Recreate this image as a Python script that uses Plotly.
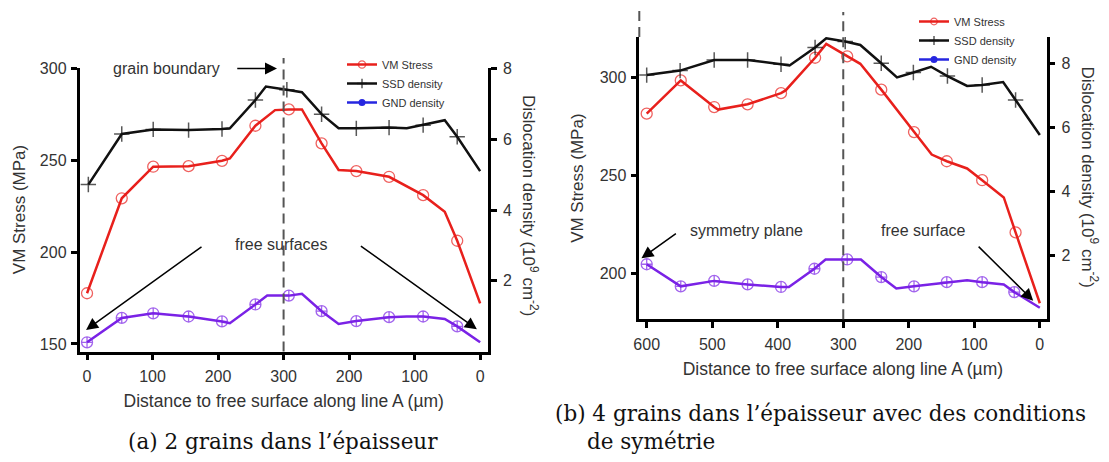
import plotly.graph_objects as go

W, H = 1109, 462

# ---------------- (a) 2 grains dans l'épaisseur ----------------
a_tick_pos = [0, 100, 200, 300, 400, 500, 600]
a_tick_text = ["0", "100", "200", "300", "200", "100", "0"]
a_left_ticks = [150, 200, 250, 300]
a_right_ticks = [2, 4, 6, 8]

a_vm_x = [0, 53, 101, 155, 206, 218, 257, 287, 308, 328, 358, 384, 411, 461, 513, 546, 565, 600]
a_vm_y = [177.6, 229.3, 246.5, 246.8, 249.7, 251.0, 268.8, 277.3, 277.7, 277.7, 259.2, 244.7, 244.1, 241.0, 231.0, 222.0, 206.2, 172.1]
a_vm_m = [1, 1, 1, 1, 1, 0, 1, 0, 1, 0, 1, 0, 1, 1, 1, 0, 1, 0]

a_ssd_x = [2, 53, 101, 155, 206, 218, 257, 273, 305, 328, 358, 384, 411, 461, 488, 513, 546, 565, 600]
a_ssd_y = [4.72, 6.15, 6.28, 6.26, 6.29, 6.31, 7.11, 7.49, 7.40, 7.33, 6.71, 6.31, 6.31, 6.33, 6.31, 6.40, 6.54, 6.07, 5.10]
a_ssd_m = [1, 1, 1, 1, 1, 0, 1, 0, 1, 0, 1, 0, 1, 1, 0, 1, 0, 1, 0]

a_gnd_x = [0, 53, 101, 155, 206, 218, 257, 275, 308, 328, 358, 384, 411, 461, 488, 513, 546, 565, 600]
a_gnd_y = [0.26, 0.95, 1.08, 0.99, 0.85, 0.80, 1.33, 1.58, 1.58, 1.63, 1.14, 0.78, 0.86, 0.97, 0.99, 0.99, 0.92, 0.71, 0.26]
a_gnd_m = [1, 1, 1, 1, 1, 0, 1, 0, 1, 0, 1, 0, 1, 1, 0, 1, 0, 1, 0]

a_boundary = 300

# ---------------- (b) 4 grains avec symétrie ----------------
b_tick_pos = [600, 500, 400, 300, 200, 100, 0]
b_left_ticks = [200, 250, 300]
b_right_ticks = [2, 4, 6, 8]

b_vm_x = [600, 548, 497, 491, 446, 395, 388, 343, 326, 294, 274, 242, 192, 165, 142, 111, 88, 55, 37, 0]
b_vm_y = [281.6, 298.6, 285.0, 283.7, 286.4, 292.1, 293.5, 310.2, 317.3, 310.9, 307.1, 293.9, 272.2, 260.7, 257.3, 253.6, 247.6, 238.8, 220.9, 184.7]
b_vm_m = [1, 1, 1, 0, 1, 1, 0, 1, 0, 1, 0, 1, 1, 0, 1, 0, 1, 0, 1, 0]

b_ssd_x = [600, 549, 497, 446, 395, 382, 343, 326, 297, 274, 242, 218, 193, 166, 141, 111, 88, 56, 37, 0]
b_ssd_y = [7.63, 7.77, 8.10, 8.10, 7.97, 7.93, 8.49, 8.78, 8.68, 8.57, 8.00, 7.56, 7.71, 7.89, 7.60, 7.29, 7.32, 7.41, 6.85, 5.76]
b_ssd_m = [1, 1, 1, 1, 1, 0, 1, 0, 1, 0, 1, 0, 1, 0, 1, 0, 1, 0, 1, 0]

b_gnd_x = [600, 548, 497, 446, 395, 383, 344, 327, 294, 273, 242, 219, 192, 142, 111, 88, 55, 39, 0]
b_gnd_y = [1.72, 1.03, 1.20, 1.09, 1.01, 1.01, 1.58, 1.87, 1.87, 1.87, 1.32, 0.96, 1.03, 1.16, 1.22, 1.16, 1.09, 0.85, 0.36]
b_gnd_m = [1, 1, 1, 1, 1, 0, 1, 0, 1, 0, 1, 0, 1, 1, 0, 1, 0, 1, 0]

b_boundary = 300

RED = "#e8201c"
BLACK = "#111111"
PURPLE = "#7a22e6"
BLUE = "#2626e0"
TXT = "#333333"
FONT = "Liberation Sans"


def sizes(flags, s):
    return [s if f else 0 for f in flags]


fig = go.Figure()


def add_panel(xa, yl, yr, legend, vm, ssd, gnd):
    fig.add_trace(go.Scatter(
        x=vm[0], y=vm[1], mode="lines+markers", name="VM Stress",
        xaxis=xa, yaxis=yl, legend=legend,
        line=dict(color=RED, width=2.5),
        marker=dict(symbol="circle-open", size=sizes(vm[2], 11), color=RED, line=dict(width=1.3))))
    fig.add_trace(go.Scatter(
        x=ssd[0], y=ssd[1], mode="lines+markers", name="SSD density",
        xaxis=xa, yaxis=yr, legend=legend,
        line=dict(color=BLACK, width=2.5),
        marker=dict(symbol="cross-thin-open", size=sizes(ssd[2], 11), color=BLACK, line=dict(width=1.5, color=BLACK))))
    fig.add_trace(go.Scatter(
        x=gnd[0], y=gnd[1], mode="lines+markers", name="GND density",
        xaxis=xa, yaxis=yr, legend=legend, showlegend=False,
        line=dict(color=PURPLE, width=2.5),
        marker=dict(symbol="circle-cross-open", size=sizes(gnd[2], 11), color=PURPLE, line=dict(width=1.3))))
    # legend entry for GND (blue in the original legend)
    fig.add_trace(go.Scatter(
        x=[None], y=[None], mode="lines+markers", name="GND density",
        xaxis=xa, yaxis=yr, legend=legend,
        line=dict(color=BLUE, width=2.5),
        marker=dict(symbol="circle", size=7, color=BLUE)))


add_panel("x", "y", "y2", "legend", (a_vm_x, a_vm_y, a_vm_m), (a_ssd_x, a_ssd_y, a_ssd_m), (a_gnd_x, a_gnd_y, a_gnd_m))
add_panel("x2", "y3", "y4", "legend2", (b_vm_x, b_vm_y, b_vm_m), (b_ssd_x, b_ssd_y, b_ssd_m), (b_gnd_x, b_gnd_y, b_gnd_m))

axis_common = dict(showline=True, linecolor="black", linewidth=2.5, ticks="outside", ticklen=6,
                   tickwidth=2.5, tickcolor="black", showgrid=False, zeroline=False,
                   tickfont=dict(family=FONT, size=16, color=TXT), automargin=False)

xtitle = "Distance to free surface along line A (µm)"
ytitle = "VM Stress (MPa)"

a_xdom = [79.5 / W, 488 / W]
a_ydom = [1 - 351.5 / H, 1 - 67.5 / H]
b_xdom = [639.3 / W, 1046.5 / W]
b_ydom = [1 - 319.3 / H, 1 - 37 / H]

fig.update_layout(
    width=W, height=H, margin=dict(l=0, r=0, t=0, b=0),
    paper_bgcolor="white", plot_bgcolor="white",
    font=dict(family=FONT, color=TXT),
    xaxis=dict(domain=a_xdom, range=[-11.5, 612], anchor="y", tickvals=a_tick_pos, ticktext=a_tick_text,
               ticklabelstandoff=3,
               title=dict(text=xtitle, font=dict(size=17.5, color=TXT), standoff=11), **axis_common),
    yaxis=dict(domain=a_ydom, range=[145.9, 300.5], anchor="x", tickvals=a_left_ticks, ticklabelstandoff=1,
               title=dict(text=ytitle, font=dict(size=17, color=TXT), standoff=10), **axis_common),
    yaxis2=dict(overlaying="y", side="right", anchor="x", range=[0, 8.03], tickvals=a_right_ticks,
                ticklabelstandoff=3, **axis_common),
    xaxis2=dict(domain=b_xdom, range=[611.3, -10.2], anchor="y3", tickvals=b_tick_pos, ticklabelstandoff=3,
                title=dict(text=xtitle, font=dict(size=17.5, color=TXT), standoff=11), **axis_common),
    yaxis3=dict(domain=b_ydom, range=[176.5, 320.8], anchor="x2", tickvals=b_left_ticks, ticklabelstandoff=1,
                title=dict(text=ytitle, font=dict(size=17, color=TXT), standoff=12), **axis_common),
    yaxis4=dict(overlaying="y3", side="right", anchor="x2", range=[0, 8.82], tickvals=b_right_ticks,
                ticklabelstandoff=3, **axis_common),
    legend=dict(x=342 / W, y=1 - 50 / H, xanchor="left", yanchor="top", bgcolor="rgba(0,0,0,0)",
                font=dict(size=11, color=TXT), itemwidth=30, tracegroupgap=0),
    legend2=dict(x=914 / W, y=1 - 7 / H, xanchor="left", yanchor="top", bgcolor="rgba(0,0,0,0)",
                 font=dict(size=11, color=TXT), itemwidth=30, tracegroupgap=0),
    showlegend=True,
)

dash = dict(color="#555555", width=2, dash="10px,6px")
fig.add_shape(type="line", xref="x", yref="paper", x0=a_boundary, x1=a_boundary,
              y0=1 - 351.5 / H, y1=1 - 58 / H, line=dash)
fig.add_shape(type="line", xref="x2", yref="paper", x0=b_boundary, x1=b_boundary,
              y0=1 - 319.3 / H, y1=1 - 12 / H, line=dash)
fig.add_shape(type="line", xref="x2 domain", yref="paper", x0=0, x1=0,
              y0=1 - 37 / H, y1=1 - 7 / H, line=dash)

ann_font = dict(family=FONT, size=16, color=TXT)


def label(text, x, y, xref, yref):
    fig.add_annotation(text=text, x=x, y=y, xref=xref, yref=yref, showarrow=False, font=ann_font)


def arrow(x_tail, y_tail, x_head, y_head, xref, yref):
    fig.add_annotation(text="", x=x_head, y=y_head, ax=x_tail, ay=y_tail, xref=xref, yref=yref,
                       axref=xref, ayref=yref, showarrow=True, arrowhead=2, arrowsize=1.6,
                       arrowwidth=1.5, arrowcolor="black", standoff=0, startstandoff=0)


# panel (a)
label("grain boundary", 120.6, 300, "x", "y")
arrow(227, 300, 290, 300, "x", "y")
label("free surfaces", 296, 203.9, "x", "y")
arrow(177, 203.5, -1.5, 157.6, "x", "y")
arrow(415.7, 203.9, 595, 158.0, "x", "y")

# panel (b)
label("grain boundary", 453.6, 331.8, "x2", "y3")
arrow(554.2, 331.3, 603, 321.6, "x2", "y3")
arrow(358, 331.3, 307, 321.6, "x2", "y3")
label("symmetry plane", 448, 222.1, "x2", "y3")
arrow(553.2, 220.9, 608, 207.7, "x2", "y3")
label("free surface", 177.8, 222.1, "x2", "y3")
arrow(95.7, 214.4, 10.1, 186.0, "x2", "y3")

# right-hand axis titles (reading downward)
rt = "Dislocation density (10<sup>9</sup> cm<sup>-2</sup>)"
fig.add_annotation(text=rt, x=530 / W, y=1 - 205 / H, xref="paper", yref="paper", showarrow=False,
                   xanchor="center", yanchor="middle",
                   textangle=90, font=dict(family=FONT, size=17, color=TXT))
fig.add_annotation(text=rt, x=1090 / W, y=1 - 176.5 / H, xref="paper", yref="paper", showarrow=False,
                   xanchor="center", yanchor="middle",
                   textangle=90, font=dict(family=FONT, size=17, color=TXT))

# captions
cap_font = dict(family="DejaVu Serif", size=21.5, color="#111111")
fig.add_annotation(text="(a) 2 grains dans l’épaisseur", x=283 / W, y=1 - 441 / H, xref="paper", yref="paper",
                   showarrow=False, font=cap_font, xanchor="center", yanchor="middle")
fig.add_annotation(text="(b) 4 grains dans l’épaisseur avec des conditions", x=553 / W, y=1 - 413 / H,
                   xref="paper", yref="paper", showarrow=False, font=cap_font, xanchor="left", yanchor="middle")
fig.add_annotation(text="de symétrie", x=585 / W, y=1 - 441 / H, xref="paper", yref="paper",
                   showarrow=False, font=cap_font, xanchor="left", yanchor="middle")

fig.write_html("out.html", config={"displayModeBar": False},
               post_script="document.body.style.margin='0';document.body.style.overflow='hidden';")
